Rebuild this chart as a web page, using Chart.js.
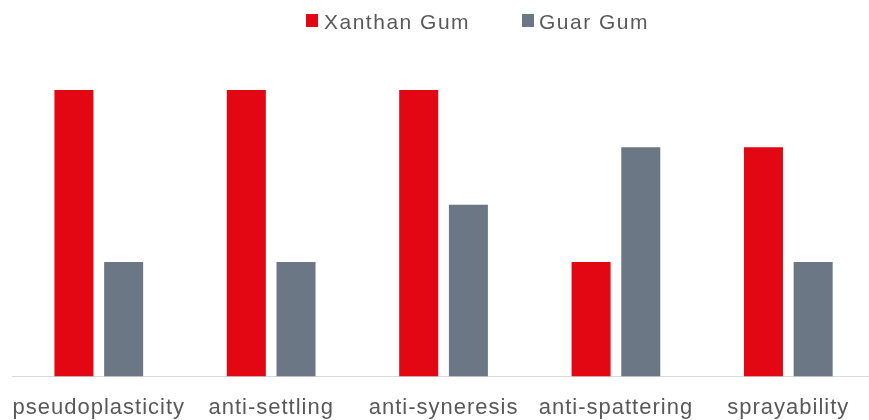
<!DOCTYPE html>
<html>
<head>
<meta charset="utf-8">
<script src="https://cdn.jsdelivr.net/npm/chart.js@4.4.1/dist/chart.umd.min.js"></script>
<style>
  html, body { margin: 0; padding: 0; background: #fff; overflow: hidden; }
  #wrap { position: relative; width: 876px; height: 420px; }
  .lg-box { position: absolute; width: 12px; height: 12.5px; }
  .lg-txt {
    position: absolute; font-family: "Liberation Sans", Arial, sans-serif;
    font-size: 21px; line-height: 21px; color: #595959; letter-spacing: 1.5px;
    white-space: nowrap;
  }
</style>
</head>
<body>
<div id="wrap">
  <canvas id="chart" width="876" height="420"></canvas>
  <div class="lg-box" style="left:306px; top:14px; background:#E30613;"></div>
  <div class="lg-txt" style="left:324px; top:11px;">Xanthan Gum</div>
  <div class="lg-box" style="left:522px; top:14px; background:#6C7785;"></div>
  <div class="lg-txt" style="left:539px; top:11px;">Guar Gum</div>
</div>
<script>
// values (5-point scale)
const categories = ["pseudoplasticity", "anti-settling", "anti-syneresis", "anti-spattering", "sprayability"];
const xanthanGum = [5, 5, 5, 2, 4];
const guarGum = [2, 2, 3, 4, 2];

const RED = "#E30613";
const GREY = "#6C7785";

// canvas text in the reference is a bit wider than plain Arial
const spacingPlugin = {
  id: "spacing",
  beforeLayout(chart) { chart.ctx.letterSpacing = "1px"; },
  beforeDraw(chart) { chart.ctx.letterSpacing = "1px"; },
};

const ctx = document.getElementById("chart").getContext("2d");
new Chart(ctx, {
  type: "bar",
  data: {
    labels: categories,
    datasets: [
      {
        label: "Xanthan Gum",
        data: xanthanGum,
        backgroundColor: RED,
        categoryPercentage: 0.5766,
        barPercentage: 0.785,
      },
      {
        label: "Guar Gum",
        data: guarGum,
        backgroundColor: GREY,
        categoryPercentage: 0.5766,
        barPercentage: 0.785,
      },
    ],
  },
  options: {
    responsive: false,
    animation: false,
    layout: {
      padding: { left: 12.6, right: 1.5, top: 32.8, bottom: 0 },
    },
    plugins: {
      legend: { display: false },
      tooltip: { enabled: false },
    },
    scales: {
      x: {
        grid: { display: false, drawTicks: false },
        border: { display: true, color: "#D9D9D9", width: 1 },
        ticks: {
          color: "#595959",
          padding: 18,
          maxRotation: 0,
          autoSkip: false,
          font: { family: "'Liberation Sans', Arial, sans-serif", size: 22 },
        },
        afterFit: (scale) => {
          scale.height = 43.5;
          // labels may overhang the plot, keep the plot edges fixed
          scale.paddingLeft = 0;
          scale.paddingRight = 0;
        },
      },
      y: {
        display: false,
        min: 0,
        max: 6,
      },
    },
  },
  plugins: [spacingPlugin],
});
</script>
</body>
</html>
